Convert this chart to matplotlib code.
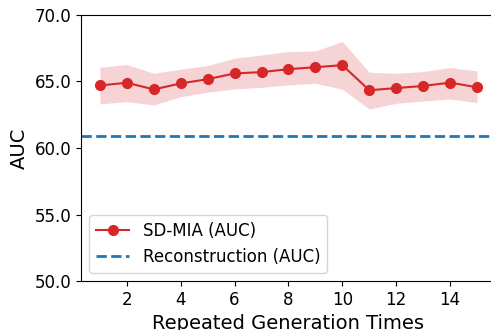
import matplotlib
matplotlib.use("Agg")
import matplotlib.pyplot as plt
import numpy as np

x = list(range(1, 16))
sd_mia = [64.7, 64.9, 64.4, 64.85, 65.17, 65.6, 65.7, 65.92, 66.07, 66.22, 64.34, 64.5, 64.66, 64.91, 64.56]
upper = [66.07, 66.27, 65.61, 65.92, 66.19, 66.74, 66.99, 67.24, 67.29, 68.0, 65.69, 65.61, 65.74, 66.04, 65.79]
lower = [63.31, 63.48, 63.23, 63.86, 64.19, 64.44, 64.56, 64.74, 64.86, 64.41, 62.93, 63.36, 63.53, 63.68, 63.41]
recon = 60.9

fig = plt.figure(figsize=(4.91, 3.3), dpi=100)
ax = fig.add_axes([0.165, 0.148, 0.835 + 0.01, 0.807])
ax.fill_between(x, lower, upper, color="#d62728", alpha=0.2, linewidth=0)
ax.plot(x, sd_mia, "-o", color="#d62728", markersize=7, linewidth=1.5, label="SD-MIA (AUC)")
ax.axhline(recon, color="#1f77b4", linestyle="--", linewidth=2, label="Reconstruction (AUC)")
ax.set_ylim(50, 70)
ax.set_yticks([50, 55, 60, 65, 70])
ax.set_yticklabels(["50.0", "55.0", "60.0", "65.0", "70.0"])
ax.set_xticks([2, 4, 6, 8, 10, 12, 14])
ax.tick_params(labelsize=12)
ax.set_xlabel("Repeated Generation Times", fontsize=14)
ax.set_ylabel("AUC", fontsize=14)
ax.legend(loc="lower left", fontsize=12)
fig.savefig("out.png", dpi=100)
